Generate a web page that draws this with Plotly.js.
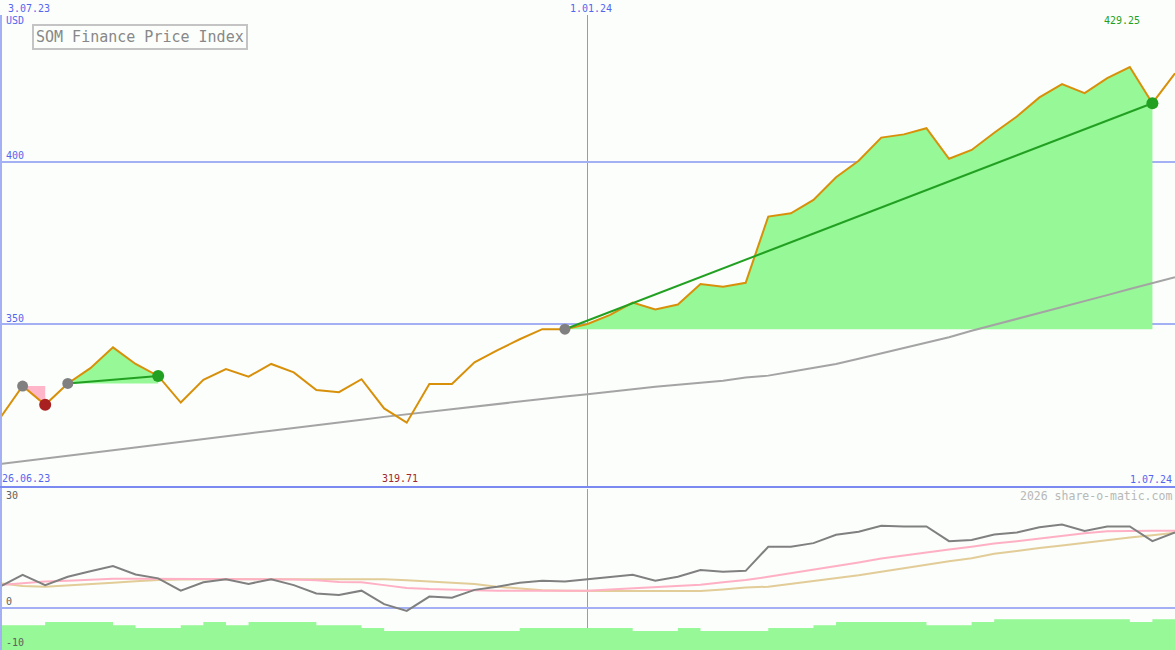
<!DOCTYPE html>
<html><head><meta charset="utf-8">
<script src="https://cdn.plot.ly/plotly-3.0.1.min.js"></script>
<style>html,body{margin:0;padding:0;background:#fbfefb;} #chart{width:1175px;height:650px;}</style>
</head><body><div id="chart"></div>
<script>
const dates = ['2023-07-03','2023-07-10','2023-07-17','2023-07-24','2023-07-31','2023-08-07','2023-08-14','2023-08-21','2023-08-28',
'2023-09-04','2023-09-11','2023-09-18','2023-09-25','2023-10-02','2023-10-09','2023-10-16','2023-10-23','2023-10-30',
'2023-11-06','2023-11-13','2023-11-20','2023-11-27','2023-12-04','2023-12-11','2023-12-18','2023-12-25',
'2024-01-01','2024-01-08','2024-01-15','2024-01-22','2024-01-29','2024-02-05','2024-02-12','2024-02-19','2024-02-26',
'2024-03-04','2024-03-11','2024-03-18','2024-03-25','2024-04-01','2024-04-08','2024-04-15','2024-04-22','2024-04-29',
'2024-05-06','2024-05-13','2024-05-20','2024-05-27','2024-06-03','2024-06-10','2024-06-17','2024-06-24','2024-07-01'];

const price = [321.1, 331.0, 325.2, 331.8, 336.5, 342.9, 337.8, 334.1, 325.9, 332.9,
  336.2, 333.9, 337.8, 335.2, 329.8, 329.1, 333.1, 324.1, 319.71, 331.6,
  331.6, 338.3, 342.0, 345.4, 348.5, 348.5, 350.1, 352.9, 356.7, 354.6,
  356.1, 362.4, 361.6, 362.8, 383.2, 384.2, 388.3, 395.3, 400.4, 407.5,
  408.5, 410.4, 401.0, 403.7, 409.0, 414.0, 419.9, 424.0, 421.2, 425.8,
  429.25, 418.1, 427.3];

const movingAvg = [307.0, 307.9, 308.7, 309.5, 310.4, 311.2, 312.1, 312.9, 313.8, 314.7,
  315.5, 316.4, 317.2, 318.0, 318.9, 319.7, 320.6, 321.5, 322.3, 323.2,
  324.0, 324.7, 325.5, 326.2, 327.0, 327.8, 328.5, 329.3, 330.0, 330.8,
  331.4, 332.1, 332.6, 333.6, 334.2, 335.4, 336.6, 337.8, 339.4, 341.0,
  342.6, 344.2, 346.0, 348.0, 349.8, 351.7, 353.5, 355.3, 357.2, 359.0,
  360.9, 362.7, 364.5];

const momentum = [5.3, 8.3, 5.7, 7.8, 9.2, 10.5, 8.4, 7.4, 4.3, 6.4,
  7.2, 6.0, 7.2, 5.7, 3.6, 3.2, 4.3, 0.9, -0.8, 2.8,
  2.5, 4.5, 5.3, 6.3, 6.8, 6.6, 7.2, 7.7, 8.3, 6.8,
  7.8, 9.5, 9.1, 9.3, 15.4, 15.4, 16.3, 18.4, 19.2, 20.7,
  20.5, 20.5, 16.8, 17.1, 18.5, 19.0, 20.3, 21.0, 19.4, 20.5,
  20.5, 16.8, 19.0];

const signalFast = [5.7, 6.2, 6.6, 6.8, 7.1, 7.3, 7.3, 7.3, 7.3, 7.3,
  7.3, 7.3, 7.2, 7.1, 6.9, 6.5, 6.4, 5.7, 5.0, 4.7,
  4.5, 4.4, 4.3, 4.3, 4.3, 4.3, 4.3, 4.6, 4.9, 5.2,
  5.4, 5.8, 6.4, 7.0, 7.8, 8.7, 9.6, 10.4, 11.4, 12.4,
  13.2, 14.0, 14.7, 15.4, 16.2, 16.8, 17.5, 18.2, 18.8, 19.3,
  19.4, 19.4, 19.4];

const signalSlow = [6.2, 5.5, 5.3, 5.6, 6.0, 6.3, 6.7, 7.0, 7.1, 7.2,
  7.2, 7.2, 7.2, 7.2, 7.2, 7.2, 7.2, 7.2, 6.9, 6.6,
  6.4, 6.0, 5.3, 4.9, 4.4, 4.3, 4.2, 4.2, 4.2, 4.2,
  4.2, 4.2, 4.6, 5.1, 5.3, 6.0, 6.7, 7.4, 8.2, 9.1,
  10.0, 10.8, 11.7, 12.5, 13.6, 14.3, 15.1, 15.7, 16.4, 17.0,
  17.7, 18.3, 18.9];

const volumeLevel = [-4.4, -4.4, -3.6, -3.6, -3.6, -4.4, -5.1, -5.1, -4.4, -3.6,
  -4.4, -3.6, -3.6, -3.6, -4.4, -4.4, -5.1, -5.9, -5.9, -5.9,
  -5.9, -5.9, -5.9, -5.1, -5.1, -5.1, -5.1, -5.1, -5.9, -5.9,
  -5.1, -5.9, -5.9, -5.9, -5.1, -5.1, -4.4, -3.6, -3.6, -3.6,
  -3.6, -4.4, -4.4, -3.6, -2.9, -2.9, -2.9, -2.9, -2.9, -2.9,
  -3.6, -2.9, -2.9];

const tradeEntry = ['2023-07-10', '2023-07-24', '2023-12-25'];
const tradeExit  = ['2023-07-17', '2023-08-21', '2024-06-24'];
const tradeWin   = [false, true, true];

const gridDates = ['2024-01-01'];
const gridDateLabels = ['1.01.24'];
const priceTicks = [350, 400];
const oscTicks = [30, 0, -10];
const firstLabel = '3.07.23';
const startLabel = '26.06.23';
const endLabel = '1.07.24';
const currency = 'USD';
const chartTitle = 'SOM Finance Price Index';
const credit = '2026 share-o-matic.com';

const W = 1175, H = 650;
const FONT = 'DejaVu Sans Mono, Liberation Mono, monospace';
const BLUE = '#5566ee', GRID = '#a4b0f4';
const GREEN_FILL = '#96f896', PINK_FILL = '#ffb6c8';
const OSC_RANGE = [-10.68, 29.97];
const px = v => v / W;
const py = v => 1 - v / H;

const traces = [];
// trade fills
tradeEntry.forEach((e, k) => {
  const i0 = dates.indexOf(e), i1 = dates.indexOf(tradeExit[k]);
  const seg = dates.slice(i0, i1 + 1);
  traces.push({x: seg, y: seg.map(() => price[i0]), mode: 'lines', line: {width: 0, color: 'rgba(0,0,0,0)'},
    xaxis: 'x', yaxis: 'y', hoverinfo: 'skip', showlegend: false});
  traces.push({x: seg, y: price.slice(i0, i1 + 1), mode: 'lines', fill: 'tonexty',
    fillcolor: tradeWin[k] ? GREEN_FILL : PINK_FILL, line: {width: 0, color: 'rgba(0,0,0,0)'},
    xaxis: 'x', yaxis: 'y', hoverinfo: 'skip', showlegend: false});
});
// moving average
traces.push({x: dates, y: movingAvg, mode: 'lines', line: {color: '#a4a4a4', width: 2}, xaxis: 'x', yaxis: 'y', showlegend: false});
// price
traces.push({x: dates, y: price, mode: 'lines', line: {color: '#d8900a', width: 2}, xaxis: 'x', yaxis: 'y', showlegend: false});
// trade lines (wins)
tradeEntry.forEach((e, k) => {
  if (!tradeWin[k]) return;
  const i0 = dates.indexOf(e), i1 = dates.indexOf(tradeExit[k]);
  traces.push({x: [e, tradeExit[k]], y: [price[i0], price[i1]], mode: 'lines',
    line: {color: '#22a022', width: 2}, xaxis: 'x', yaxis: 'y', showlegend: false});
});
// markers
traces.push({x: tradeEntry, y: tradeEntry.map(d => price[dates.indexOf(d)]), mode: 'markers',
  marker: {color: '#808080', size: 11}, xaxis: 'x', yaxis: 'y', showlegend: false});
traces.push({x: tradeExit, y: tradeExit.map(d => price[dates.indexOf(d)]), mode: 'markers',
  marker: {color: tradeWin.map(w => w ? '#22a022' : '#a82020'), size: 12}, xaxis: 'x', yaxis: 'y', showlegend: false});

// lower panel
traces.push({x: dates, y: dates.map(() => -12), mode: 'lines', line: {width: 0, color: 'rgba(0,0,0,0)'},
  xaxis: 'x', yaxis: 'y2', showlegend: false});
traces.push({x: dates, y: volumeLevel, mode: 'lines', line: {width: 0, shape: 'hv', color: 'rgba(0,0,0,0)'},
  fill: 'tonexty', fillcolor: GREEN_FILL, xaxis: 'x', yaxis: 'y2', showlegend: false});
traces.push({x: dates, y: signalSlow, mode: 'lines', line: {color: '#e2cc98', width: 2}, xaxis: 'x', yaxis: 'y2', showlegend: false});
traces.push({x: dates, y: signalFast, mode: 'lines', line: {color: '#ffb0c4', width: 2}, xaxis: 'x', yaxis: 'y2', showlegend: false});
traces.push({x: dates, y: momentum, mode: 'lines', line: {color: '#808080', width: 2}, xaxis: 'x', yaxis: 'y2', showlegend: false});

const maxIdx = price.indexOf(Math.max(...price));
const minIdx = price.indexOf(Math.min(...price));

const lab = (text, x, y, xanchor, color, size, extra) => Object.assign({
  text: text, x: x, y: y, xref: 'paper', yref: 'paper', xanchor: xanchor, yanchor: 'middle',
  showarrow: false, font: {family: FONT, size: size || 10, color: color}, borderpad: 0
}, extra || {});

const annotations = [
  lab(firstLabel, px(7), py(8), 'left', BLUE),
  lab(currency, px(5), py(20.5), 'left', BLUE),
  lab(startLabel, px(1), py(478.5), 'left', BLUE),
  lab(endLabel, px(1173), py(479), 'right', BLUE),
  lab(price[maxIdx].toFixed(2), dates[maxIdx], py(21), 'center', '#22a022', 10, {xref: 'x', xshift: -8}),
  lab(price[minIdx].toFixed(2), dates[minIdx], py(478.5), 'center', '#a02828', 10, {xref: 'x', xshift: -7}),
  lab(credit, px(1173), py(496), 'right', '#b8b8b8', 11.5),
  lab(chartTitle, px(32), py(24), 'left', '#888888', 15, {yanchor: 'top', bordercolor: '#c4c4c4', borderwidth: 2, borderpad: 2}),
];
gridDates.forEach((d, k) => annotations.push(lab(gridDateLabels[k], d, py(8), 'center', BLUE, 10, {xref: 'x', xshift: 3})));
priceTicks.forEach(v => annotations.push(lab(String(v), px(5), v, 'left', BLUE, 10, {yref: 'y', yshift: 6})));
const oscShift = {'30': -6, '0': 6, '-10': 5};
oscTicks.forEach(v => annotations.push(lab(String(v), px(5),
  Math.max(Math.min(v, OSC_RANGE[1] - 0.05), OSC_RANGE[0] + 0.05), 'left', '#606060', 10,
  {yref: 'y2', yshift: oscShift[String(v)]})));

const layout = {
  width: W, height: H, margin: {l: 0, r: 0, t: 0, b: 0, pad: 0},
  paper_bgcolor: '#fbfefb', plot_bgcolor: '#fbfefb', showlegend: false,
  xaxis: {type: 'date', range: [dates[0], dates[dates.length - 1]], tickvals: gridDates, showticklabels: false,
    ticks: '', showgrid: true, gridcolor: '#8898f2', gridwidth: 1.2, zeroline: false, showline: false, anchor: 'y'},
  yaxis: {domain: [1 - 487 / H, 1 - 15 / H], range: [299.9, 445.27], tickvals: priceTicks, showticklabels: false,
    ticks: '', showgrid: true, gridcolor: GRID, gridwidth: 2, zeroline: false, showline: false},
  yaxis2: {domain: [0, 1 - 489 / H], range: OSC_RANGE, tickvals: [0], showticklabels: false,
    ticks: '', showgrid: true, gridcolor: GRID, gridwidth: 2, zeroline: false, showline: false},
  shapes: [
    {type: 'line', xref: 'paper', yref: 'paper', x0: 0, x1: 0, y0: 0, y1: 1 - 15 / H, line: {color: GRID, width: 4}},
    {type: 'line', xref: 'paper', yref: 'paper', x0: 0, x1: 1, y0: 1 - 487 / H, y1: 1 - 487 / H, line: {color: '#7a8af0', width: 2}}
  ],
  annotations: annotations
};

Plotly.newPlot('chart', traces, layout, {staticPlot: true, displayModeBar: false});
</script>
</body></html>
